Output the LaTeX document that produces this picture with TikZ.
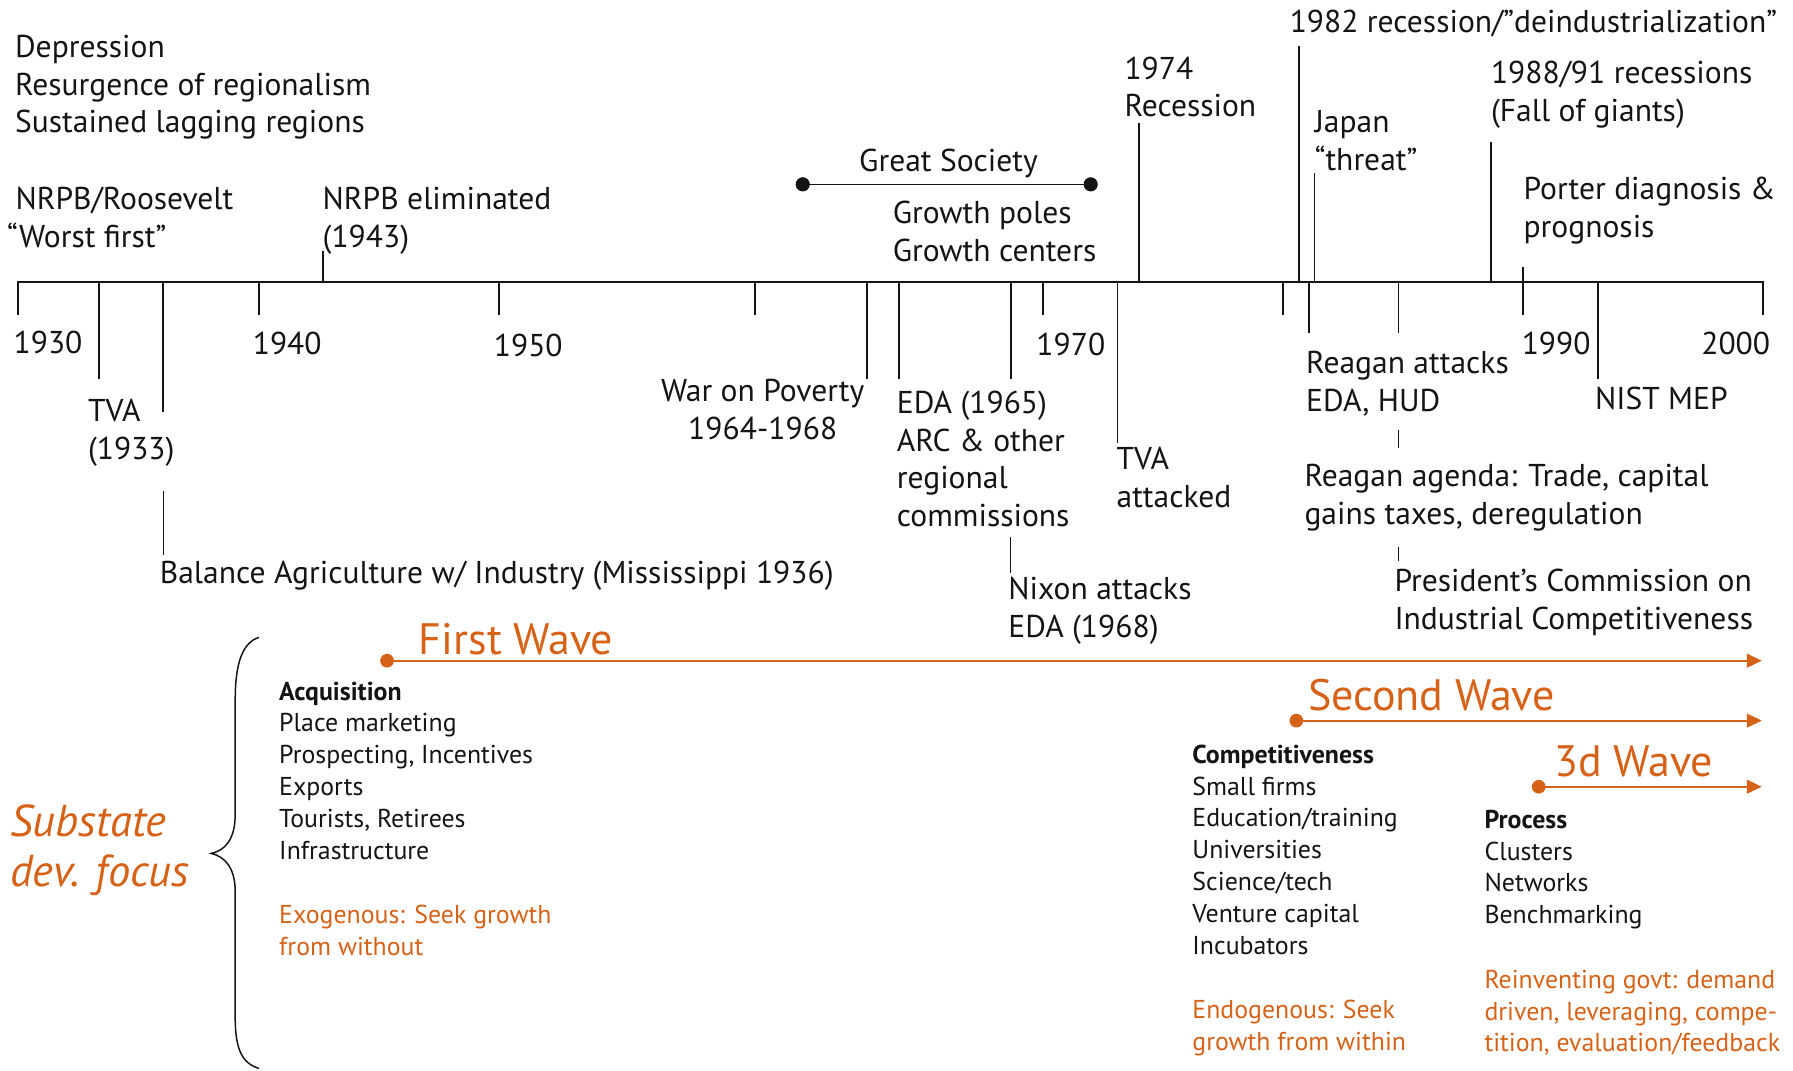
\documentclass[tikz,border=0pt]{standalone}
\usepackage{fontspec}
\setmainfont{PT Sans}
\usetikzlibrary{arrows.meta}
\definecolor{wave}{RGB}{214,98,24}
\definecolor{ink}{RGB}{20,20,20}
% stacked lines whose reference point is the first baseline
\newcommand\stackL[1]{\vtop{\halign{##\hfil\cr#1\crcr}}}
\newcommand\stackC[1]{\vtop{\halign{\hfil##\hfil\cr#1\crcr}}}
\begin{document}
\begin{tikzpicture}[x=1pt,y=-1pt,
  lbl/.style={inner sep=0pt, anchor=base west, text=ink, font=\fontsize{27.6}{33}\selectfont},
  lblc/.style={lbl, anchor=base},
  small/.style={inner sep=0pt, anchor=base west, text=ink, font=\fontsize{22.6}{27.8}\selectfont},
  smallo/.style={small, text=wave},
  wavetitle/.style={inner sep=0pt, anchor=base west, text=wave, font=\fontsize{38.5}{42}\selectfont},
  focus/.style={inner sep=0pt, anchor=base west, text=wave, font=\fontsize{39}{43.7}\selectfont\itshape},
  axis/.style={draw=ink, line width=1.8pt},
  evt/.style={draw=ink, line width=1.3pt},
  waveline/.style={draw=wave, line width=1.6pt, -{Triangle[length=13pt,width=12pt]}},
  wavedot/.style={fill=wave, draw=none},
  gsdot/.style={fill=ink, draw=none},
  brace/.style={draw=ink, line width=1.3pt}
]
\useasboundingbox (0,0) rectangle (1568,936);

% ---------- time axis ----------
\coordinate (ax0) at (16.1,247);
\coordinate (ax1) at (1541.5,247);
\draw[axis, line join=miter] (16.1,275.5) -- (ax0) -- (ax1) -- (1541.5,275.5);
\foreach \x/\n in {226.2/1940, 436/1950, 660.3/1960, 911.9/1970, 1122.2/1980, 1331.5/1990}{
  \coordinate (y\n) at (\x,247);
  \draw[axis] (y\n) -- ++(0,28.5);
}

\node[lbl] (l1930) at (11.7,309) {1930};
\node[lbl] (l1940) at (220.9,309.9) {1940};
\node[lbl] (l1950) at (431.7,311.9) {1950};
\node[lbl] (l1970) at (906.2,311.3) {1970};
\node[lbl] (l1990) at (1330.6,309.6) {1990};
\node[lbl] (l2000) at (1487.6,309.6) {2000};

% ---------- labels above the axis ----------
\node[lbl] (dep) at (13,50.1) {\stackL{Depression\cr Resurgence of regionalism\cr Sustained lagging regions}};
\node[lbl] (nrpb) at (13.4,183.6) {\stackL{NRPB/Roosevelt\cr \kern-7.4pt“Worst first”}};
\node[lbl] (nrpbx) at (282,183.1) {\stackL{NRPB eliminated\cr (1943)}};
\node[lbl] (gs) at (829.5,150.1) [anchor=base] {Great Society};
\node[lbl] (grow) at (780.6,195.3) {\stackL{Growth poles\cr Growth centers}};
\node[lbl] (rec74) at (983.2,69.1) {\stackL{1974\cr Recession}};
\node[lbl] (rec82) at (1127.7,28.3) {1982 recession/”deindustrialization”};
\node[lbl] (japan) at (1149.6,116) {\stackL{Japan\cr “threat”}};
\node[lbl] (rec88) at (1303.7,72.9) {\stackL{1988/91 recessions\cr (Fall of giants)}};
\node[lbl] (porter) at (1332.2,174.9) {\stackL{Porter diagnosis \&\cr prognosis}};

\coordinate (e1943) at (282.1,247);   \coordinate (e1943t) at (282.1,219.2);
\coordinate (e1974) at (995.9,247);   \coordinate (e1974t) at (995.9,107.3);
\coordinate (e1982) at (1136.1,247);  \coordinate (e1982t) at (1136.1,40);
\coordinate (e1983) at (1149.6,247);  \coordinate (e1983t) at (1149.6,151.6);
\coordinate (e1988) at (1303.7,247);  \coordinate (e1988t) at (1303.7,123.9);
\coordinate (e1990) at (1331.5,247);  \coordinate (e1990t) at (1331.5,233.2);
\draw[axis] (e1943) -- (e1943t);
\draw[evt] (e1974) -- (e1974t);
\draw[evt] (e1982) -- (e1982t);
\draw[evt] (e1983) -- (e1983t);
\draw[evt] (e1988) -- (e1988t);
\draw[axis] (e1990) -- (e1990t);

% Great Society span
\coordinate (gs0) at (702,161.2);
\coordinate (gs1) at (953.8,161.2);
\draw[line width=1.1pt, draw=ink] (gs0) -- (gs1);
\fill[gsdot] (gs0) circle (6.2);
\fill[gsdot] (gs1) circle (6.2);

% ---------- labels below the axis ----------
\node[lbl] (tva) at (76.8,368.7) {\stackL{TVA\cr (1933)}};
\node[lbl] (bawi) at (139.6,510.1) {Balance Agriculture w/ Industry (Mississippi 1936)};
\node[lblc] (war) at (667,351.3) {\stackC{War on Poverty\cr 1964-1968}};
\node[lbl] (eda) at (784.1,361.5) {\stackL{EDA (1965)\cr ARC \& other\cr regional\cr commissions}};
\node[lbl] (nixon) at (881.7,524.7) {\stackL{Nixon attacks\cr EDA (1968)}};
\node[lbl] (tvax) at (976.3,411) {\stackL{TVA\cr attacked}};
\node[lbl] (reagan) at (1142.1,326.5) {\stackL{Reagan attacks\cr EDA, HUD}};
\node[lbl] (agenda) at (1140.6,425.6) {\stackL{Reagan agenda: Trade, capital\cr gains taxes, deregulation}};
\node[lbl] (pres) at (1219.3,517.4) {\stackL{President’s Commission on\cr Industrial Competitiveness}};
\node[lbl] (nist) at (1394.7,358.5) {NIST MEP};

\coordinate (e1933) at (86.7,247);   \coordinate (e1933b) at (86.7,331.7);
\coordinate (e1936) at (142.9,247);  \coordinate (e1936b) at (142.9,360);
\coordinate (e1936c) at (142.9,429); \coordinate (e1936d) at (142.9,485.4);
\coordinate (e1964) at (758,247);    \coordinate (e1964b) at (758,331.7);
\coordinate (e1965) at (786.1,247);  \coordinate (e1965b) at (786.1,331.7);
\coordinate (e1968) at (884.1,247);  \coordinate (e1968b) at (884.1,331.7);
\coordinate (e1968c) at (883.6,469.3); \coordinate (e1968d) at (883.6,501.4);
\coordinate (e1972) at (977.1,247);  \coordinate (e1972b) at (977.1,387.5);
\coordinate (e1981) at (1144.6,247); \coordinate (e1981b) at (1144.6,291.5);
\coordinate (e1985) at (1223,247);   \coordinate (e1985b) at (1223,291.5);
\coordinate (e1985c) at (1223,376);  \coordinate (e1985d) at (1223,392);
\coordinate (e1985e) at (1223,478);  \coordinate (e1985f) at (1223,491);
\coordinate (e1993) at (1397.4,247); \coordinate (e1993b) at (1397.4,331.7);
\draw[axis] (e1933) -- (e1933b);
\draw[axis] (e1936) -- (e1936b);
\draw[evt] (e1936c) -- (e1936d);
\draw[axis] (e1964) -- (e1964b);
\draw[axis] (e1965) -- (e1965b);
\draw[axis] (e1968) -- (e1968b);
\draw[evt] (e1968c) -- (e1968d);
\draw[evt] (e1972) -- (e1972b);
\draw[evt] (e1981) -- (e1981b);
\draw[evt] (e1985) -- (e1985b);
\draw[evt] (e1985c) -- (e1985d);
\draw[evt] (e1985e) -- (e1985f);
\draw[evt] (e1993) -- (e1993b);

% ---------- waves ----------
\coordinate (w1s) at (338.5,577.8);  \coordinate (w1e) at (1540.7,577.8);
\coordinate (w2s) at (1133.7,630.2); \coordinate (w2e) at (1540.7,630.2);
\coordinate (w3s) at (1345.6,688);   \coordinate (w3e) at (1540.7,688);
\draw[waveline] (w1s) -- (w1e);
\draw[waveline] (w2s) -- (w2e);
\draw[waveline] (w3s) -- (w3e);
\fill[wavedot] (w1s) circle (6);
\fill[wavedot] (w2s) circle (6);
\fill[wavedot] (w3s) circle (6);
\node[wavetitle] (wt1) at (366.2,572.8) {First Wave};
\node[wavetitle] (wt2) at (1143.8,620.9) {Second Wave};
\node[wavetitle] (wt3) at (1358.9,679.2) {3d Wave};

\node[small] (acq) at (244,612.2) {\stackL{\textbf{Acquisition}\cr Place marketing\cr Prospecting, Incentives\cr Exports\cr Tourists, Retirees\cr Infrastructure}};
\node[smallo] (exo) at (244,808) {\stackL{Exogenous: Seek growth\cr from without}};
\node[small] (comp) at (1042.6,667.5) {\stackL{\textbf{Competitiveness}\cr Small firms\cr Education/training\cr Universities\cr Science/tech\cr Venture capital\cr Incubators}};
\node[smallo] (endo) at (1042.6,891.1) {\stackL{Endogenous: Seek\cr growth from within}};
\node[small] (proc) at (1298,724.4) {\stackL{\textbf{Process}\cr Clusters\cr Networks\cr Benchmarking}};
\node[smallo] (rein) at (1298,864.3) {\stackL{Reinventing govt: demand\cr driven, leveraging, compe-\cr tition, evaluation/feedback}};

% ---------- focus brace ----------
\node[focus] (sub) at (8.6,731.7) {\stackL{Substate\cr dev. focus}};
\draw[brace] (226.4,557.4) .. controls (212,562) and (205.7,580) .. (205.7,612)
  -- (205.7,712) .. controls (205.7,735) and (196,744) .. (184.7,746.3)
  .. controls (196,749) and (205.7,758) .. (205.7,780)
  -- (205.7,890) .. controls (205.7,918) and (212,930) .. (226.4,934.3);
\end{tikzpicture}
\end{document}
